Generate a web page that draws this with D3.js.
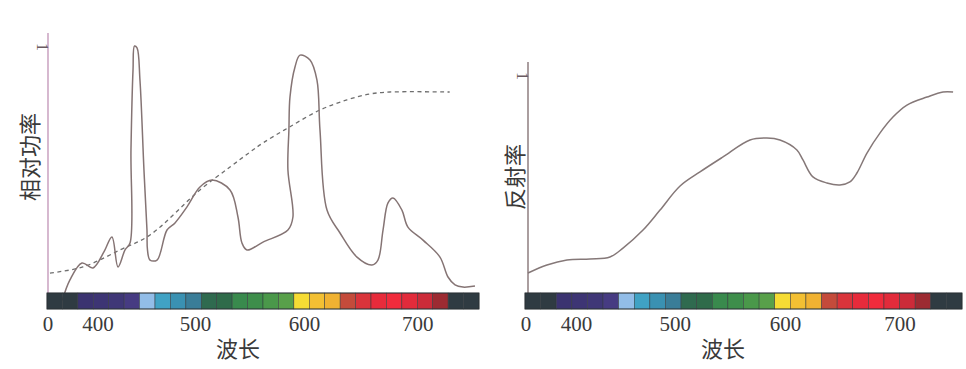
<!DOCTYPE html>
<html><head><meta charset="utf-8">
<script src="https://cdn.jsdelivr.net/npm/d3@7/dist/d3.min.js"></script>
<style>body{margin:0;background:#fff}svg{display:block}</style>
</head><body><svg id="c" width="966" height="369"></svg>
<script>
// ---- data ----
const cellColors = ["#2f3b42","#2f3b42","#3b3370","#3d3574","#3f3777","#463b82","#92bde8","#40a2c4","#3a91b2","#3a7d98","#2f6a4f","#2f6b4a","#398a4d","#3e8e4b","#4a984a","#58a04a","#f6dc34","#f3c033","#f0b232","#c44b3b","#d9343b","#e72b3b","#f02b3c","#e22b3b","#cc2b39","#9c2b32","#2f3b42","#2f3b42"];
const tickValues = [400, 500, 600, 700];
const waveBreaks = [350, 400, 500, 600, 700, 755];

// left chart: lamp relative power (solid) and daylight (dashed)
const lampWave  = [365,372.5,384.3,395.1,406.1,414.3,420.5,427.7,432.8,433.8,435.9,437.4,440.0,443.0,447.1,450.2,450.7,453.3,460.5,470.7,478.9,491.2,504.0,515.1,531.6,538.9,542.6,547.2,561.9,584.8,589.4,584.8,585.7,586.7,591.3,595.9,604.9,611.0,613.7,619.9,631.4,646.4,659.6,664.9,669.4,673.8,678.2,686.1,691.4,704.8,720.0,727.2,733.5,740.6,751.4];
const lampPower = [-0.03,0.053,0.122,0.102,0.167,0.228,0.106,0.175,0.203,0.581,0.907,1.004,0.996,0.866,0.500,0.256,0.175,0.134,0.134,0.256,0.285,0.350,0.431,0.459,0.419,0.309,0.203,0.175,0.207,0.256,0.309,0.500,0.663,0.797,0.919,0.967,0.947,0.866,0.663,0.337,0.244,0.146,0.114,0.134,0.256,0.366,0.386,0.337,0.268,0.215,0.146,0.065,0.033,0.024,0.028];
const dayWave  = [352.9,385.3,422.5,453.3,504.0,531.6,550.0,561.9,584.8,613.7,637.5,657.8,675.5,728.7];
const dayPower = [0.081,0.106,0.175,0.236,0.419,0.512,0.573,0.610,0.671,0.744,0.785,0.809,0.817,0.817];

// right chart: reflectance
const reflWave  = [352.9,371.3,390.7,413.6,433.8,447.0,467.3,484.5,504.3,522.4,543.3,567.8,583.2,595.0,610.0,615.3,624.0,636.2,647.6,656.3,662.4,671.2,682.5,693.9,706.2,724.0,738.2,747.1];
const reflValue = [0.092,0.129,0.152,0.157,0.166,0.207,0.290,0.382,0.493,0.558,0.627,0.705,0.714,0.705,0.659,0.613,0.535,0.507,0.498,0.512,0.553,0.645,0.737,0.811,0.866,0.903,0.926,0.926];

// ---- drawing ----
const svg = d3.select("#c");
const frac = [0, 0.118, 0.344, 0.596, 0.858, 1];

function panel(opt) {
  const g = svg.append("g");
  const x = d3.scaleLinear().domain(waveBreaks).range(frac.map(f => opt.left + f * opt.width));
  const y = d3.scaleLinear().domain([0, 1]).range([opt.base, opt.top1]);
  const band = d3.scaleBand().domain(d3.range(cellColors.length)).range([opt.left, opt.left + opt.width]);

  // y axis line
  g.append("line").attr("x1", opt.axisX).attr("x2", opt.axisX)
    .attr("y1", y(0)).attr("y2", y(opt.axisTopVal))
    .attr("stroke", opt.axisColor).attr("stroke-width", 1.3);
  // "1" tick label
  g.append("text").attr("transform", `translate(${opt.axisX - 5.5},${y(1)}) rotate(90)`)
    .attr("text-anchor", "middle").attr("dominant-baseline", "central")
    .attr("font-family", "Liberation Serif").attr("font-size", 16).attr("fill", "#6a5a60").text("1");

  const line = d3.line().x((d) => x(d[0])).y((d) => y(d[1])).curve(d3.curveCatmullRom.alpha(0.5));
  opt.series.forEach(s => {
    g.append("path").attr("d", line(d3.zip(s.xs, s.ys)))
      .attr("fill", "none").attr("stroke", s.color).attr("stroke-width", s.w)
      .attr("stroke-dasharray", s.dash || null);
  });

  // spectrum bar
  g.selectAll("rect.cell").data(cellColors).join("rect").attr("class", "cell")
    .attr("x", (d, i) => band(i)).attr("y", opt.base).attr("width", band.bandwidth()).attr("height", 16)
    .attr("fill", d => d).attr("stroke", "#33393c").attr("stroke-width", 0.5);
  g.append("rect").attr("x", opt.left).attr("y", opt.base).attr("width", opt.width).attr("height", 16)
    .attr("fill", "none").attr("stroke", "#2a3034").attr("stroke-width", 0.8);

  // tick labels
  const tf = "Liberation Serif";
  g.append("text").attr("x", opt.left + 1).attr("y", 331).attr("text-anchor", "middle")
    .attr("font-family", tf).attr("font-size", 21).attr("fill", "#3a3a3a").text("0");
  g.selectAll("text.tk").data(tickValues).join("text").attr("class", "tk")
    .attr("x", d => x(d)).attr("y", 331).attr("text-anchor", "middle")
    .attr("font-family", tf).attr("font-size", 21).attr("fill", "#3a3a3a").text(d => d);

  // axis titles
  g.append("text").attr("x", opt.xTitleX).attr("y", 347).attr("text-anchor", "middle").attr("dominant-baseline", "central")
    .attr("font-family", "Noto Sans CJK SC").attr("font-size", 22).attr("fill", "#3a3a3a").text("波长");
  g.append("text").attr("transform", `translate(${opt.yTitle[0]},${opt.yTitle[1]}) rotate(-90)`)
    .attr("text-anchor", "middle").attr("dominant-baseline", "central")
    .attr("font-family", "Noto Sans CJK SC").attr("font-size", 22).attr("fill", "#3a3a3a").text(opt.yText);
}

panel({
  left: 47, width: 432, base: 293, top1: 47, axisX: 48, axisTopVal: 1.057, axisColor: "#c193b6",
  xTitleX: 238, yTitle: [28, 157], yText: "相对功率",
  series: [
    {xs: dayWave, ys: dayPower, color: "#6f6f6f", w: 1.3, dash: "4,3.5"},
    {xs: lampWave, ys: lampPower, color: "#857474", w: 1.5}
  ]
});
panel({
  left: 525, width: 437, base: 293, top1: 76, axisX: 528, axisTopVal: 1.065, axisColor: "#7d6a6c",
  xTitleX: 723, yTitle: [513, 177], yText: "反射率",
  series: [
    {xs: reflWave, ys: reflValue, color: "#857878", w: 1.5}
  ]
});
</script></body></html>
